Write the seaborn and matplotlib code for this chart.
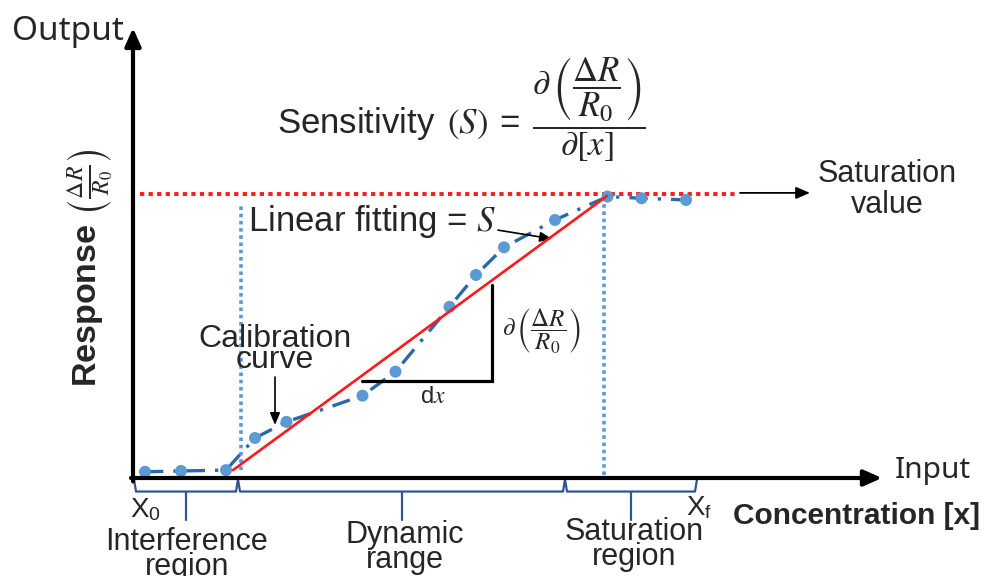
import numpy as np
import pandas as pd
import matplotlib
matplotlib.use("Agg")
import matplotlib.pyplot as plt
import seaborn as sns

# ---------------- data ----------------
concentration = [0.24, 0.96, 1.86, 2.44, 3.07, 4.59, 5.25, 6.33, 6.86, 7.42, 8.44, 9.49, 10.17, 11.06]
response = [0.022, 0.025, 0.028, 0.142, 0.199, 0.292, 0.377, 0.607, 0.720, 0.818, 0.915, 0.998, 0.992, 0.986]
fit_x = [2.0, 9.48]
fit_y = [0.028, 1.0]
saturation_value = 1.007
saturation_line_x = [0.14, 12.04]
dynamic_lo, dynamic_hi = 2.16, 9.42
region_bounds = [0.02, 2.1, 8.64, 11.28]
region_labels = ["Interference\nregion", "Dynamic\nrange", "Saturation\nregion"]
slope_dx = [4.58, 7.18]
slope_dy = [0.344, 0.684]

# ---------------- style ----------------
sns.set_theme(style="white")
plt.rcParams["font.family"] = ["Liberation Sans", "DejaVu Sans"]
plt.rcParams["mathtext.fontset"] = "stix"

fig = plt.figure(figsize=(9.9, 5.76), dpi=100)
ax = fig.add_axes([0, 0, 1, 1])
ax.set_xlim(-2.66, 17.14)
ax.set_ylim(-0.3475, 1.695)
ax.set_axis_off()

BLUE_PT = "#5B9BD5"
BLUE_LN = "#2C69AA"
BRACE = "#2F5597"
RED = "#FF1A1A"

# saturation red dotted line
ax.plot(saturation_line_x, [saturation_value] * 2, color=RED, lw=2.8,
        linestyle=(0, (1.1, 1.1)), zorder=2)
# blue dotted verticals
ax.plot([dynamic_lo] * 2, [fit_y[0], 0.975], color=BLUE_PT, lw=2.6,
        linestyle=(0, (1, 1)), zorder=2)
ax.plot([dynamic_hi] * 2, [0.01, saturation_value], color=BLUE_PT, lw=2.6,
        linestyle=(0, (1, 1)), zorder=2)

# calibration curve
df = pd.DataFrame({"conc": concentration, "resp": response})
sns.lineplot(data=df, x="conc", y="resp", sort=False, ax=ax, color=BLUE_LN,
             lw=2.4, linestyle=(0, (5.5, 3, 1, 3)), zorder=3)
sns.scatterplot(data=df, x="conc", y="resp", ax=ax, color=BLUE_PT, s=75,
                edgecolor="none", zorder=4)

# linear fit
sns.lineplot(x=fit_x, y=fit_y, ax=ax, color=RED, lw=1.9, zorder=5)

# slope triangle
ax.plot([slope_dx[0], slope_dx[1], slope_dx[1]], [slope_dy[0], slope_dy[0], slope_dy[1]],
        color="black", lw=2.3, zorder=3, solid_joinstyle="miter")

# axes arrows
ax.annotate("", xy=(0, 1.596), xytext=(0, -0.012),
            arrowprops=dict(arrowstyle="-|>,head_length=0.9,head_width=0.4",
                            lw=3.0, color="black", shrinkA=0, shrinkB=0), zorder=6)
ax.annotate("", xy=(14.98, 0), xytext=(-0.04, 0),
            arrowprops=dict(arrowstyle="-|>,head_length=0.9,head_width=0.4",
                            lw=3.0, color="black", shrinkA=0, shrinkB=0), zorder=6)

# braces
for i in range(3):
    a, b = region_bounds[i], region_bounds[i + 1]
    m = (a + b) / 2
    ax.plot([a, a + 0.04, b - 0.04, b], [-0.005, -0.048, -0.048, -0.005],
            color=BRACE, lw=1.6, zorder=3)
    ax.plot([m, m], [-0.048, -0.148], color=BRACE, lw=1.6, zorder=3)

# texts
ax.text(-2.42, 1.553, "Output", fontsize=24, family=["Noto Sans", "DejaVu Sans"],
        ha="left", va="baseline")
ax.text(15.24, 0.0, "Input", fontsize=21.5, family=["Noto Sans", "DejaVu Sans"],
        ha="left", va="baseline")
ax.text(12.0, -0.163, "Concentration [x]", fontsize=21.5, fontweight="bold",
        ha="left", va="baseline")
ax.text(-0.06, -0.138, r"X$_\mathregular{0}$", fontsize=20, ha="left", va="baseline")
ax.text(11.06, -0.131, r"X$_\mathregular{f}$", fontsize=20, ha="left", va="baseline")

label_x = [1.08, 5.44, 10.02]
label_y1 = [-0.255, -0.230, -0.220]
for lx, ly, lab in zip(label_x, label_y1, region_labels):
    top, bot = lab.split("\n")
    ax.text(lx, ly, top, fontsize=22, ha="center", va="baseline")
    ax.text(lx, ly - 0.089, bot, fontsize=22, ha="center", va="baseline")

ax.text(-0.86, 0.745, r"Response $\left(\frac{\Delta R}{R_0}\right)$", fontsize=24.5,
        fontweight="bold", rotation=90, ha="center", va="center")

ax.text(2.88, 1.22,
        r"Sensitivity $\,(S)\;\mathregular{=}\;\dfrac{\partial\,\left(\dfrac{\Delta R}{R_0}\right)}{\partial[x]}$",
        fontsize=25, ha="left", va="baseline")

ax.text(2.3, 0.876, r"Linear fitting = $S$", fontsize=25, ha="left", va="baseline")
ax.annotate("", xy=(8.38, 0.848), xytext=(7.3, 0.879),
            arrowprops=dict(arrowstyle="-|>,head_length=0.6,head_width=0.25",
                            lw=1.2, color="black", shrinkA=0, shrinkB=0))

ax.text(2.84, 0.4645, "Calibration", fontsize=23, ha="center", va="baseline")
ax.text(2.84, 0.39, "curve", fontsize=23, ha="center", va="baseline")
ax.annotate("", xy=(2.84, 0.188), xytext=(2.84, 0.358),
            arrowprops=dict(arrowstyle="-|>,head_length=0.6,head_width=0.25",
                            lw=1.2, color="black", shrinkA=0, shrinkB=0))

ax.text(7.38, 0.518, r"$\partial\,\left(\dfrac{\Delta R}{R_0}\right)$", fontsize=18,
        ha="left", va="center")
ax.text(5.74, 0.266, r"$\mathregular{d}x$", fontsize=17, ha="left", va="baseline")

ax.annotate("", xy=(13.54, 1.011), xytext=(12.14, 1.011),
            arrowprops=dict(arrowstyle="-|>,head_length=0.7,head_width=0.3",
                            lw=1.3, color="black", shrinkA=0, shrinkB=0))
ax.text(15.08, 1.05, "Saturation", fontsize=22, ha="center", va="baseline")
ax.text(15.08, 0.94, "value", fontsize=22, ha="center", va="baseline")

fig.savefig("out.png", dpi=100)
